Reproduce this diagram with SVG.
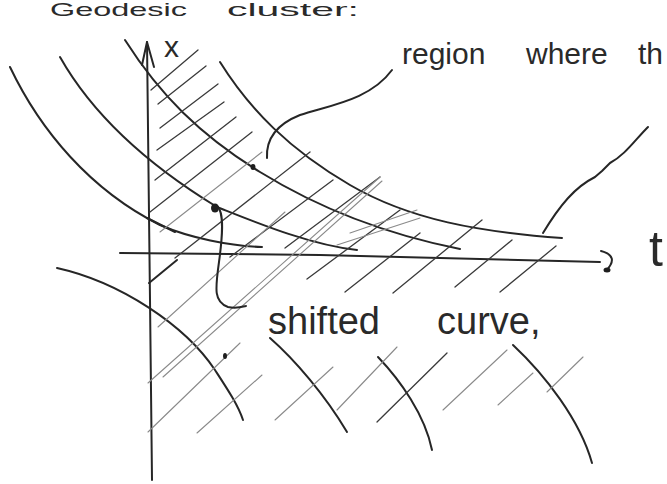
<svg xmlns="http://www.w3.org/2000/svg" width="667" height="484" viewBox="0 0 667 484">
<style>
.pen{fill:none;stroke:#262626;stroke-width:2;stroke-linecap:round;stroke-linejoin:round}
.hatch{fill:none;stroke:#3a3a3a;stroke-width:1.3;stroke-linecap:round}
.faint{fill:none;stroke:#8a8a8a;stroke-width:1.1;stroke-linecap:round}
.ink{fill:#1e1e1e}
.hand{font-family:"Liberation Sans",Arial,sans-serif;fill:#2a2a2a}
</style>
<rect width="667" height="484" fill="#ffffff"/>

<g id="title">
<text class="hand" font-size="19" y="16"><tspan x="50" textLength="137" lengthAdjust="spacingAndGlyphs">Geodesic</tspan></text>
<text class="hand" font-size="19" y="16"><tspan x="227" textLength="132" lengthAdjust="spacingAndGlyphs">cluster:</tspan></text>
</g>

<g id="axes">
<path class="pen" d="M147,42 L150,300 L152,480" stroke-width="1.6"/>
<path class="pen" d="M142,65 L147,42 L154,67" stroke-width="1.6"/>
<path class="pen" d="M120,253 L320,255 L600,262" stroke-width="1.8"/>
<path class="pen" d="M601,251 Q620,256 606,271" stroke-width="2.2"/>
<ellipse class="ink" cx="607" cy="270" rx="3.5" ry="2.5"/>
<text class="hand" font-size="30" x="164" y="57">x</text>
<text class="hand" font-size="50" x="649" y="266">t</text>
</g>

<g id="curves">
<path id="c1" class="pen" d="M220,62 C250,110 290,150 350,185 S480,232 562,238"/>
<path id="c2" class="pen" d="M125,40 C160,95 200,135 260,172 S390,235 460,249"/>
<path id="c3" class="pen" d="M60,57 C90,110 140,160 217,207 C255,222 310,245 357,250"/>
<path id="c4" class="pen" d="M10,67 C40,130 90,190 160,225 C190,238 230,246 262,247"/>
<path class="pen" d="M147,218 L175,232" stroke-width="4.5"/>
<path id="b1" class="pen" d="M57,268 C120,282 185,325 215,370 C228,390 238,405 243,420"/>
<path id="b2" class="pen" d="M270,338 C295,360 325,395 347,432"/>
<path id="b3" class="pen" d="M378,357 C400,380 425,415 432,450"/>
<path id="b4" class="pen" d="M513,345 C545,375 580,420 592,463" stroke-width="1.6"/>
</g>

<g id="hatching">
<path class="hatch" d="M151,90 L198,50"/>
<path class="hatch" d="M158,104 L206,66"/>
<path class="hatch" d="M160,128 L218,84"/>
<path class="hatch" d="M157,150 L224,102"/>
<path class="hatch" d="M155,180 L236,117"/>
<path class="hatch" d="M150,212 L252,132"/>
<path class="faint" d="M160,232 L262,152"/>
<path class="hatch" d="M175,258 L310,152"/>
<path class="hatch" d="M230,257 L333,180"/>
<path class="hatch" d="M285,248 L380,177"/>
<path class="hatch" d="M307,279 L400,210"/>
<path class="hatch" d="M345,292 L420,233"/>
<path class="hatch" d="M393,293 L482,220"/>
<path class="hatch" d="M455,287 L512,240"/>
<path class="hatch" d="M500,292 L556,246"/>
<path class="faint" d="M337,245 L420,218"/>
<path class="faint" d="M350,233 L417,210"/>
<path class="faint" d="M148,383 L380,177"/>
<path class="faint" d="M163,377 L382,181"/>
<path class="faint" d="M158,327 L285,212"/>
<path class="pen" d="M149,283 L177,260" stroke-width="2"/>
<path class="faint" d="M148,432 L240,343"/>
<path class="faint" d="M197,433 L262,375"/>
<path class="faint" d="M275,420 L333,367"/>
<path class="faint" d="M337,410 L397,347"/>
<path class="hatch" d="M377,422 L447,353"/>
<path class="faint" d="M443,410 L507,350"/>
<path class="faint" d="M498,405 L533,373"/>
<path class="faint" d="M547,392 L583,357"/>
<ellipse class="ink" cx="225" cy="356" rx="2" ry="3"/>
</g>

<g id="connectors">
<path class="pen" d="M267,158 C266,140 275,125 300,115 C330,105 370,100 392,70" stroke-width="1.6"/>
<path class="pen" d="M543,233 C560,205 575,187 595,177 L602,171 L610,163 C625,155 635,140 648,127" stroke-width="1.6"/>
<path class="pen" d="M217,206 C225,212 222,240 219,262 C215,290 214,302 228,307 C236,309 242,307 246,306" stroke-width="1.6"/>
<ellipse class="ink" cx="215" cy="208" rx="4" ry="4.5"/>
<ellipse class="ink" cx="253" cy="167" rx="2.5" ry="3"/>
</g>

<g id="labels">
<text class="hand" font-size="30" y="64"><tspan x="402">region</tspan><tspan x="526">where</tspan><tspan x="638">th</tspan></text>
<text class="hand" font-size="38" y="334"><tspan x="268">shifted</tspan><tspan x="437">curve,</tspan></text>
</g>
</svg>
